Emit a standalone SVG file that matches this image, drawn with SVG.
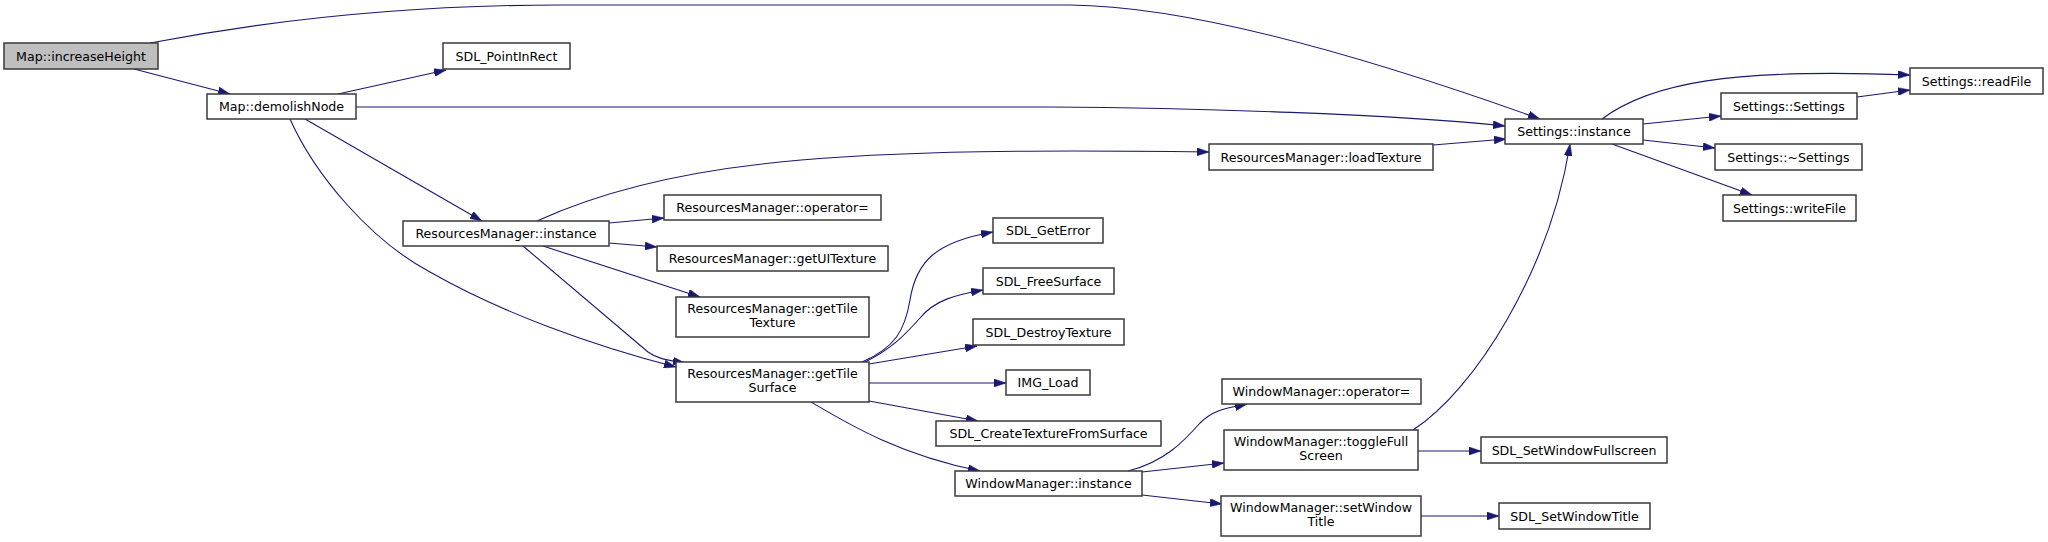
<svg xmlns="http://www.w3.org/2000/svg" width="2048" height="542" viewBox="0 0 2048 542">
<style>
.n rect{fill:#ffffff;stroke:#3a3a3a;stroke-width:1.5}
.root rect{fill:#bfbfbf}
.n text{font-family:"DejaVu Sans","Liberation Sans",sans-serif;font-size:12.6px;fill:#000;text-anchor:middle}
.e path{fill:none;stroke:#191970;stroke-width:1.1;marker-end:url(#ah)}
</style>
<defs>
<marker id="ah" markerUnits="userSpaceOnUse" viewBox="0 0 12 8" markerWidth="12" markerHeight="8" refX="12" refY="4" orient="auto">
<path d="M0,0 L12,4 L0,8 z" fill="#191970" stroke="#191970" stroke-width="0.5"/>
</marker>
</defs>
<rect width="2048" height="542" fill="#ffffff"/>
<g id="edges" class="e">
<path d="M134,69 L230,94"/>
<path d="M150,43 C260,22 400,5 560,5 L1070,5 C1190,6 1370,58 1540,119"/>
<path d="M338,94 L446,70"/>
<path d="M356,107 L1050,107 C1200,108 1390,114 1505,126"/>
<path d="M305,119 L482,221"/>
<path d="M290,119 C315,175 370,240 430,272 C500,312 590,345 676,367"/>
<path d="M537,221 C600,192 680,172 780,162 C900,150 1050,150 1209,152"/>
<path d="M609,223 L664,218"/>
<path d="M609,243 L657,247"/>
<path d="M543,246 L700,297"/>
<path d="M523,246 L648,352 C656,358 665,360 685,363"/>
<path d="M862,362 C895,348 905,330 910,300 C916,262 935,242 993,232"/>
<path d="M865,362 C890,350 905,335 920,318 C935,300 955,295 983,290"/>
<path d="M869,364 L977,346"/>
<path d="M869,383 L1006,383"/>
<path d="M869,401 L978,421"/>
<path d="M811,402 C850,425 900,455 980,471"/>
<path d="M1128,471 C1165,462 1185,440 1200,423 C1215,408 1230,408 1247,404"/>
<path d="M1142,472 L1224,463"/>
<path d="M1142,495 L1222,504"/>
<path d="M1418,451 L1481,451"/>
<path d="M1421,516 L1499,516"/>
<path d="M1413,430 C1475,390 1550,270 1570,144"/>
<path d="M1433,145 L1506,139"/>
<path d="M1602,119 C1650,83 1730,68 1910,75"/>
<path d="M1643,124 L1721,116"/>
<path d="M1643,140 L1715,148"/>
<path d="M1612,144 L1752,195"/>
<path d="M1857,97 L1910,90"/>
</g>
<g id="node_increaseHeight" class="n root"><rect x="4" y="43" width="154" height="26"/><text x="81" y="60.5">Map::increaseHeight</text></g>
<g id="node_demolishNode" class="n"><rect x="207" y="94" width="149" height="25"/><text x="281.5" y="111">Map::demolishNode</text></g>
<g id="node_SDL_PointInRect" class="n"><rect x="443" y="43" width="127" height="26"/><text x="506.5" y="60.5">SDL_PointInRect</text></g>
<g id="node_RM_instance" class="n"><rect x="403" y="221" width="206" height="25"/><text x="506" y="238">ResourcesManager::instance</text></g>
<g id="node_RM_operator" class="n"><rect x="664" y="195" width="217" height="25"/><text x="772.5" y="212">ResourcesManager::operator=</text></g>
<g id="node_RM_getUITexture" class="n"><rect x="657" y="246" width="231" height="25"/><text x="772.5" y="263">ResourcesManager::getUITexture</text></g>
<g id="node_RM_getTileTexture" class="n"><rect x="676" y="297" width="193" height="40"/><text x="772.5" y="312.5">ResourcesManager::getTile</text><text x="772.5" y="327">Texture</text></g>
<g id="node_RM_getTileSurface" class="n"><rect x="676" y="362" width="193" height="40"/><text x="772.5" y="377.5">ResourcesManager::getTile</text><text x="772.5" y="392">Surface</text></g>
<g id="node_RM_loadTexture" class="n"><rect x="1209" y="144" width="224" height="26"/><text x="1321" y="161.5">ResourcesManager::loadTexture</text></g>
<g id="node_Settings_instance" class="n"><rect x="1505" y="119" width="138" height="25"/><text x="1574" y="136">Settings::instance</text></g>
<g id="node_Settings_readFile" class="n"><rect x="1910" y="68" width="133" height="26"/><text x="1976.5" y="85.5">Settings::readFile</text></g>
<g id="node_Settings_Settings" class="n"><rect x="1721" y="93" width="136" height="26"/><text x="1789" y="110.5">Settings::Settings</text></g>
<g id="node_Settings_dtor" class="n"><rect x="1715" y="144" width="147" height="26"/><text x="1788.5" y="161.5">Settings::~Settings</text></g>
<g id="node_Settings_writeFile" class="n"><rect x="1723" y="195" width="133" height="26"/><text x="1789.5" y="212.5">Settings::writeFile</text></g>
<g id="node_SDL_GetError" class="n"><rect x="993" y="218" width="110" height="25"/><text x="1048" y="235">SDL_GetError</text></g>
<g id="node_SDL_FreeSurface" class="n"><rect x="983" y="268" width="131" height="26"/><text x="1048.5" y="285.5">SDL_FreeSurface</text></g>
<g id="node_SDL_DestroyTexture" class="n"><rect x="973" y="319" width="151" height="26"/><text x="1048.5" y="336.5">SDL_DestroyTexture</text></g>
<g id="node_IMG_Load" class="n"><rect x="1006" y="370" width="84" height="25"/><text x="1048" y="387">IMG_Load</text></g>
<g id="node_SDL_CreateTextureFromSurface" class="n"><rect x="936" y="421" width="225" height="25"/><text x="1048.5" y="438">SDL_CreateTextureFromSurface</text></g>
<g id="node_WM_instance" class="n"><rect x="955" y="471" width="187" height="25"/><text x="1048.5" y="488">WindowManager::instance</text></g>
<g id="node_WM_operator" class="n"><rect x="1222" y="379" width="199" height="25"/><text x="1321.5" y="396">WindowManager::operator=</text></g>
<g id="node_WM_toggleFullScreen" class="n"><rect x="1224" y="430" width="194" height="40"/><text x="1321" y="445.5">WindowManager::toggleFull</text><text x="1321" y="460">Screen</text></g>
<g id="node_WM_setWindowTitle" class="n"><rect x="1221" y="496" width="200" height="40"/><text x="1321" y="511.5">WindowManager::setWindow</text><text x="1321" y="526">Title</text></g>
<g id="node_SDL_SetWindowFullscreen" class="n"><rect x="1481" y="437" width="186" height="26"/><text x="1574" y="454.5">SDL_SetWindowFullscreen</text></g>
<g id="node_SDL_SetWindowTitle" class="n"><rect x="1499" y="503" width="151" height="26"/><text x="1574.5" y="520.5">SDL_SetWindowTitle</text></g>
</svg>
